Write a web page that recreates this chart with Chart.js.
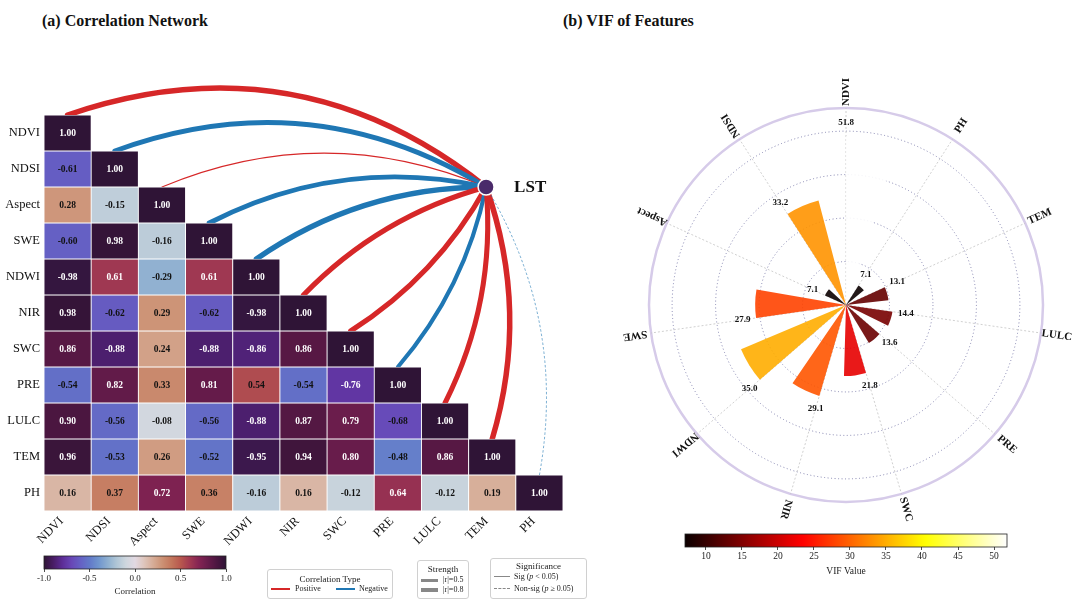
<!DOCTYPE html>
<html>
<head>
<meta charset="utf-8">
<script src="https://cdn.jsdelivr.net/npm/chart.js@4.4.1/dist/chart.umd.min.js"></script>
<style>
  html, body { margin: 0; padding: 0; background: #fff; }
  body { width: 1080px; height: 605px; position: relative; overflow: hidden; font-family: 'Liberation Serif', 'Times New Roman', serif; color: #111; }
  canvas { position: absolute; }
  .title { position: absolute; font-weight: bold; font-size: 16px; line-height: 20px; white-space: nowrap; }
  .leg { position: absolute; border: 1px solid #d0d0d0; border-radius: 3px; background: #fff; color: #222; }
  .leg div { position: absolute; white-space: nowrap; }
  .leg .t { left: 0; right: 0; text-align: center; font-size: 9px; line-height: 10px; }
  .leg .e { font-size: 8px; line-height: 10px; }
  .leg .ln { height: 0; }
</style>
</head>
<body>
<div class="title" style="left:42px;top:11px">(a) Correlation Network</div>
<div class="title" style="left:563px;top:11px">(b) VIF of Features</div>

<canvas id="heat" width="600" height="550" style="left:0;top:0"></canvas>
<canvas id="corrBar" width="222" height="48" style="left:24px;top:549px"></canvas>
<canvas id="vif" width="484" height="500" style="left:596px;top:55px"></canvas>
<canvas id="vifBar" width="362" height="50" style="left:665px;top:527px"></canvas>

<div class="leg" style="left:267px;top:569px;width:124px;height:28px">
  <div class="t" style="top:4px">Correlation Type</div>
  <div class="ln" style="left:3px;top:18px;width:19px;border-top:2.5px solid #d62728"></div>
  <div class="e" style="left:27px;top:14px">Positive</div>
  <div class="ln" style="left:68px;top:18px;width:19px;border-top:2.5px solid #1f77b4"></div>
  <div class="e" style="left:91px;top:14px">Negative</div>
</div>
<div class="leg" style="left:417px;top:560px;width:50px;height:37px">
  <div class="t" style="top:3px">Strength</div>
  <div class="ln" style="left:3px;top:18px;width:17px;border-top:3px solid #888"></div>
  <div class="e" style="left:25px;top:14px">|r|=0.5</div>
  <div class="ln" style="left:3px;top:27px;width:17px;border-top:4.8px solid #888"></div>
  <div class="e" style="left:25px;top:24px">|r|=0.8</div>
</div>
<div class="leg" style="left:490px;top:558px;width:95px;height:39px">
  <div class="t" style="top:2px">Significance</div>
  <div class="ln" style="left:3px;top:17px;width:16px;border-top:1.6px solid #888"></div>
  <div class="e" style="left:23px;top:13px">Sig (<i>p</i> &lt; 0.05)</div>
  <div class="ln" style="left:3px;top:29px;width:16px;border-top:1.6px dashed #888"></div>
  <div class="e" style="left:23px;top:25px">Non-sig (<i>p</i> &ge; 0.05)</div>
</div>

<script>
// ---------------------------------------------------------------------------
// data
// ---------------------------------------------------------------------------
const vars = ['NDVI', 'NDSI', 'Aspect', 'SWE', 'NDWI', 'NIR', 'SWC', 'PRE', 'LULC', 'TEM', 'PH'];

// lower triangle of the correlation matrix, one row per variable
const corrRows = [
  [1.00],
  [-0.61, 1.00],
  [0.28, -0.15, 1.00],
  [-0.60, 0.98, -0.16, 1.00],
  [-0.98, 0.61, -0.29, 0.61, 1.00],
  [0.98, -0.62, 0.29, -0.62, -0.98, 1.00],
  [0.86, -0.88, 0.24, -0.88, -0.86, 0.86, 1.00],
  [-0.54, 0.82, 0.33, 0.81, 0.54, -0.54, -0.76, 1.00],
  [0.90, -0.56, -0.08, -0.56, -0.88, 0.87, 0.79, -0.68, 1.00],
  [0.96, -0.53, 0.26, -0.52, -0.95, 0.94, 0.80, -0.48, 0.86, 1.00],
  [0.16, 0.37, 0.72, 0.36, -0.16, 0.16, -0.12, 0.64, -0.12, 0.19, 1.00]
];

// correlation of each variable with LST (edge colour / width) and significance
const lstCorr = [0.90, -0.80, 0.18, -0.80, -0.88, 0.88, 0.85, -0.68, 0.85, 0.92, -0.10];
const lstSig = [true, true, true, true, true, true, true, true, true, true, false];
const corrTicks = [-1, -0.5, 0, 0.5, 1];

// VIF, listed clockwise from the top
const vifLabels = ['NDVI', 'PH', 'TEM', 'LULC', 'PRE', 'SWC', 'NIR', 'NDWI', 'SWE', 'Aspect', 'NDSI'];
const vifValues = [51.8, 7.1, 13.1, 14.4, 13.6, 21.8, 29.1, 35.0, 27.9, 7.1, 33.2];
const vifRings = [13.35, 26.7, 40.05, 53.4];
const vifTicks = [10, 15, 20, 25, 30, 35, 40, 45, 50];

// ---------------------------------------------------------------------------
// layout / style
// ---------------------------------------------------------------------------
const lstNodePos = { x: 8.87, y: 1.5 };
const vifAxisMax = 60.5;
const barSpan = 18;               // degrees covered by one VIF bar
const serif = "'Liberation Serif', 'Times New Roman', serif";
const posColor = '#d62728';
const negColor = '#1f77b4';

Chart.defaults.font.family = serif;
Chart.defaults.color = '#111';
Chart.defaults.animation = false;
Chart.defaults.plugins.legend.display = false;
Chart.defaults.plugins.tooltip.enabled = false;

// twilight_shifted approximation
const corrAnchors = [
  [-1.0, 47, 20, 54], [-0.9, 72, 28, 100], [-0.8, 92, 44, 150], [-0.7, 104, 70, 182],
  [-0.6, 101, 96, 196], [-0.5, 98, 121, 201], [-0.4, 112, 149, 206], [-0.3, 142, 175, 208],
  [-0.2, 176, 198, 214], [-0.1, 206, 214, 222], [0.0, 226, 217, 226], [0.1, 222, 197, 188],
  [0.2, 214, 172, 150], [0.3, 204, 145, 116], [0.4, 195, 118, 92], [0.5, 184, 88, 78],
  [0.6, 162, 58, 82], [0.7, 132, 36, 83], [0.8, 104, 28, 75], [0.9, 75, 22, 64], [1.0, 47, 20, 54]
];
function corrColor(r) {
  r = Math.max(-1, Math.min(1, r));
  let k = 0;
  while (k < corrAnchors.length - 2 && r > corrAnchors[k + 1][0]) k++;
  const a = corrAnchors[k], b = corrAnchors[k + 1];
  const t = (r - a[0]) / (b[0] - a[0]);
  const c = [1, 2, 3].map(i => Math.round(a[i] + (b[i] - a[i]) * t));
  return `rgb(${c[0]},${c[1]},${c[2]})`;
}

// matplotlib 'hot'
const vifMin = Math.min(...vifValues);
const vifMax = Math.max(...vifValues);
function hotColor(v, alpha = 1) {
  const t = Math.max(0, Math.min(1, (v - vifMin) / (vifMax - vifMin)));
  const r = t < 0.365 ? 0.0416 + t / 0.365 * 0.9584 : 1;
  const g = t < 0.365 ? 0 : t < 0.746 ? (t - 0.365) / 0.381 : 1;
  const b = t < 0.746 ? 0 : (t - 0.746) / 0.254;
  return `rgba(${Math.round(r * 255)},${Math.round(g * 255)},${Math.round(b * 255)},${alpha})`;
}

const fixedTicks = values => scale => { scale.ticks = values.map(value => ({ value })); };

// ---------------------------------------------------------------------------
// (a) correlation heatmap + LST network
// ---------------------------------------------------------------------------
const networkArcs = {
  id: 'networkArcs',
  beforeDatasetsDraw(chart) {
    const { ctx, scales: { x, y } } = chart;
    const nx = x.getPixelForValue(lstNodePos.x), ny = y.getPixelForValue(lstNodePos.y);
    ctx.save();
    vars.forEach((name, i) => {
      const sx = x.getPixelForValue(i), sy = y.getPixelForValue(i - 0.5);
      const dx = nx - sx, dy = ny - sy;
      const side = i < vars.length / 2 ? 1 : -1;
      const f = side * Math.hypot(dx, dy) / 1550;
      const cx = (sx + nx) / 2 + f * dy, cy = (sy + ny) / 2 - f * dx;
      ctx.beginPath();
      ctx.moveTo(sx, sy);
      ctx.quadraticCurveTo(cx, cy, nx, ny);
      ctx.strokeStyle = lstCorr[i] > 0 ? posColor : negColor;
      ctx.lineWidth = Math.abs(lstCorr[i]) * 6;
      ctx.setLineDash(lstSig[i] ? [] : [2.5, 2]);
      ctx.lineCap = lstSig[i] ? 'round' : 'butt';
      ctx.stroke();
    });
    ctx.restore();
  },
  afterDatasetsDraw(chart) {
    const { ctx, scales: { x, y } } = chart;
    ctx.save();
    ctx.textAlign = 'center';
    ctx.textBaseline = 'middle';
    ctx.font = `bold 9.5px ${serif}`;
    chart.data.datasets.forEach((ds, di) => {
      if (ds.type !== 'bar') return;
      chart.getDatasetMeta(di).data.forEach((el, k) => {
        const r = ds.data[k].r;
        const { x: px, y: py, base } = el.getProps(['x', 'y', 'base'], true);
        ctx.fillStyle = (r > 0.58 || r < -0.7) ? '#fff' : '#111';
        ctx.fillText(r.toFixed(2), px, (py + base) / 2 + 0.5);
      });
    });
    ctx.font = `bold 17px ${serif}`;
    ctx.textAlign = 'left';
    ctx.fillStyle = '#111';
    ctx.fillText('LST', x.getPixelForValue(lstNodePos.x) + 28, y.getPixelForValue(lstNodePos.y) + 1);
    ctx.restore();
  }
};

const heatDatasets = corrRows.map((row, i) => ({
  type: 'bar',
  data: row.map((r, j) => ({ x: j, y: [i - 0.5, i + 0.5], r })),
  backgroundColor: c => (c.raw ? corrColor(c.raw.r) : 'transparent'),
  borderColor: 'rgba(255,255,255,0.95)',
  borderWidth: 0.8,
  borderSkipped: false,
  grouped: false,
  barPercentage: 1,
  categoryPercentage: 1,
  order: 2
}));

new Chart(document.getElementById('heat'), {
  type: 'bar',
  data: {
    datasets: [
      ...heatDatasets,
      {
        type: 'scatter',
        data: [lstNodePos],
        pointRadius: 8,
        pointBackgroundColor: '#4a2a6a',
        pointBorderColor: '#ffffff',
        pointBorderWidth: 1.5,
        order: 0
      }
    ]
  },
  options: {
    responsive: false,
    layout: { padding: { top: 115, right: 37, left: 0, bottom: 0 } },
    scales: {
      x: {
        type: 'linear', min: -0.5, max: 10.5, offset: false,
        grid: { display: false, drawTicks: false }, border: { display: false },
        afterBuildTicks: fixedTicks(vars.map((v, i) => i)),
        afterFit: s => { s.height = 39; },
        ticks: {
          autoSkip: false, minRotation: 45, maxRotation: 45, padding: 3, labelOffset: -6,
          font: { size: 12.5 }, color: '#111', callback: v => vars[v]
        }
      },
      y: {
        type: 'linear', reverse: true, min: -0.5, max: 10.5,
        grid: { display: false, drawTicks: false }, border: { display: false },
        afterBuildTicks: fixedTicks(vars.map((v, i) => i)),
        afterFit: s => { s.width = 44; },
        ticks: { padding: 4, font: { size: 12.5 }, color: '#111', callback: v => vars[v] }
      }
    }
  },
  plugins: [networkArcs]
});

// ---------------------------------------------------------------------------
// colour bars
// ---------------------------------------------------------------------------
function gradientPlugin(colorFn) {
  return {
    id: 'gradientBar',
    beforeDatasetsDraw(chart) {
      const { ctx, chartArea: a, scales: { x } } = chart;
      const g = ctx.createLinearGradient(a.left, 0, a.right, 0);
      for (let k = 0; k <= 60; k++) g.addColorStop(k / 60, colorFn(x.min + (x.max - x.min) * k / 60));
      ctx.save();
      ctx.fillStyle = g;
      ctx.fillRect(a.left, a.top, a.width, a.height);
      ctx.strokeStyle = '#222';
      ctx.lineWidth = 0.8;
      ctx.strokeRect(a.left, a.top, a.width, a.height);
      ctx.restore();
    }
  };
}

function colorBar(id, min, max, ticks, fmt, title, colorFn, size, axisHeight) {
  new Chart(document.getElementById(id), {
    type: 'scatter',
    data: { datasets: [] },
    options: {
      responsive: false,
      layout: { padding: { left: 20, right: 20, top: 7, bottom: 0 } },
      scales: {
        x: {
          type: 'linear', min, max,
          afterBuildTicks: fixedTicks(ticks),
          afterFit: s => { s.height = axisHeight; },
          grid: { drawOnChartArea: false, drawTicks: true, tickLength: 3, color: '#222', lineWidth: 0.8 },
          border: { display: false },
          ticks: { padding: 1, font: { size }, color: '#222', callback: fmt },
          title: { display: true, text: title, font: { size }, color: '#222', padding: { top: 0, bottom: 0 } }
        },
        y: { display: false }
      }
    },
    plugins: [gradientPlugin(colorFn)]
  });
}

colorBar('corrBar', -1, 1, corrTicks, v => v.toFixed(1), 'Correlation', corrColor, 9, 28);
colorBar('vifBar', vifMin, vifMax, vifTicks, v => String(v), 'VIF Value', v => hotColor(v), 9.5, 30);

// ---------------------------------------------------------------------------
// (b) VIF polar bars
// ---------------------------------------------------------------------------
const slot = 360 / vifValues.length;

const polarDecor = {
  id: 'polarDecor',
  beforeDatasetsDraw(chart) {
    const { ctx } = chart;
    const r = chart.scales.r;
    ctx.save();
    ctx.strokeStyle = '#c4c4c4';
    ctx.lineWidth = 0.8;
    ctx.setLineDash([2, 2]);
    vifLabels.forEach((l, i) => {
      const th = i * slot * Math.PI / 180;
      ctx.beginPath();
      ctx.moveTo(r.xCenter, r.yCenter);
      ctx.lineTo(r.xCenter + r.drawingArea * Math.sin(th), r.yCenter - r.drawingArea * Math.cos(th));
      ctx.stroke();
    });
    ctx.restore();
  },
  afterDatasetsDraw(chart) {
    const { ctx } = chart;
    const r = chart.scales.r;
    ctx.save();
    ctx.textAlign = 'center';
    ctx.textBaseline = 'middle';
    ctx.fillStyle = '#111';
    ctx.font = `bold 9px ${serif}`;
    vifValues.forEach((v, i) => {
      const th = i * slot * Math.PI / 180;
      const d = r.getDistanceFromCenterForValue(v + 0.08 * vifMax);
      ctx.fillText(v.toFixed(1), r.xCenter + d * Math.sin(th), r.yCenter - d * Math.cos(th));
    });
    ctx.font = `bold 11px ${serif}`;
    vifLabels.forEach((l, i) => {
      const th = i * slot * Math.PI / 180;
      const d = r.drawingArea + 16;
      ctx.save();
      ctx.translate(r.xCenter + d * Math.sin(th), r.yCenter - d * Math.cos(th));
      ctx.rotate(th - Math.PI / 2);
      ctx.fillText(l, 0, 0);
      ctx.restore();
    });
    ctx.restore();
  }
};

const isRim = c => c.tick && c.tick.value >= vifAxisMax;

new Chart(document.getElementById('vif'), {
  type: 'polarArea',
  data: {
    labels: vifLabels.flatMap(l => [l, '']),
    datasets: [{
      data: vifValues.flatMap(v => [v, 0]),
      angle: c => (c.dataIndex % 2 === 0 ? barSpan : slot - barSpan),
      backgroundColor: c => (c.dataIndex % 2 === 0 ? hotColor(vifValues[c.dataIndex / 2], 0.9) : 'rgba(0,0,0,0)'),
      borderWidth: 0
    }]
  },
  options: {
    responsive: false,
    startAngle: -barSpan / 2,
    layout: { padding: { left: 52.5, right: 36.5, top: 52.5, bottom: 52.5 } },
    scales: {
      r: {
        min: 0, max: vifAxisMax,
        afterBuildTicks: fixedTicks([0, ...vifRings, vifAxisMax]),
        ticks: { display: false },
        pointLabels: { display: false },
        angleLines: { display: false },
        grid: {
          circular: true,
          color: c => (isRim(c) ? '#d6cbe9' : '#8282ae'),
          lineWidth: c => (isRim(c) ? 2.5 : 1),
          borderDash: c => (isRim(c) ? [] : [1, 2.5])
        },
        border: { dash: c => (isRim(c) ? [] : [1, 2.5]) }
      }
    }
  },
  plugins: [polarDecor]
});
</script>
</body>
</html>
